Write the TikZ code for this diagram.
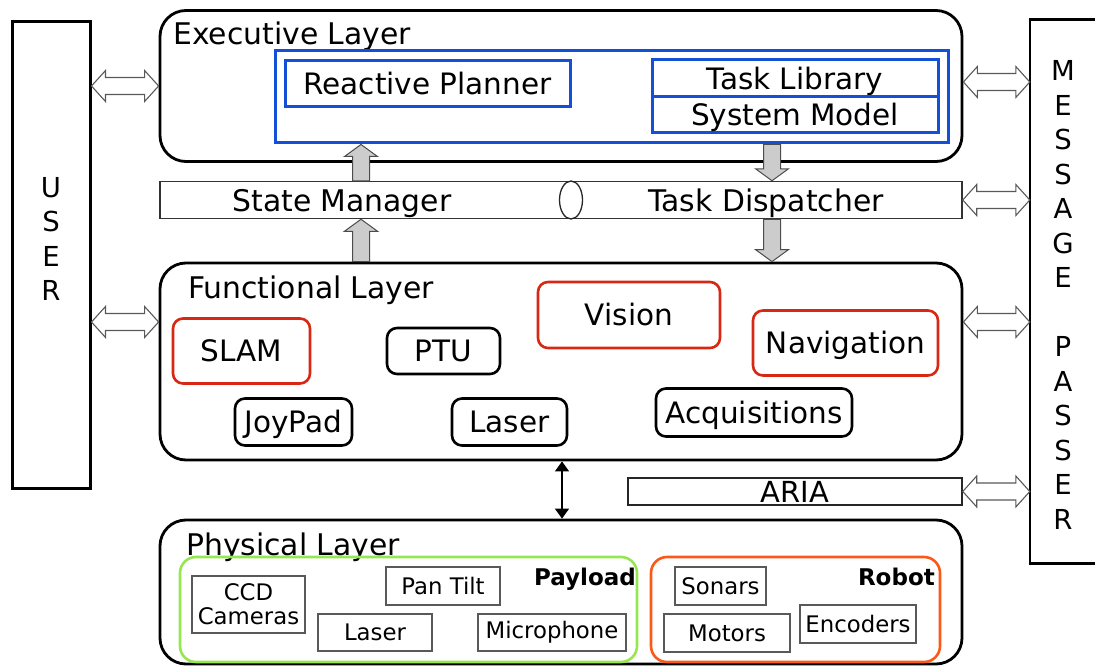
\documentclass[tikz,border=0pt]{standalone}
\usepackage{fontspec}
\setmainfont{DejaVu Sans}
\usetikzlibrary{calc,arrows.meta,shapes.geometric}
\definecolor{bblue}{RGB}{20,80,215}
\definecolor{rred}{RGB}{215,40,20}
\definecolor{lgreen}{RGB}{150,230,80}
\definecolor{oorange}{RGB}{250,90,25}
\tikzset{
  capc/.style={text height=21.5pt, text depth=0pt},
  lay/.style={draw=black, line width=2.8pt, rounded corners=26pt, inner sep=0pt},
  bx/.style={draw, inner sep=0pt, capc, font=\fontsize{29.5}{32}\selectfont},
  fbox/.style={draw=black, line width=2.6pt, rounded corners=10pt, inner sep=0pt, capc, font=\fontsize{29.5}{32}\selectfont},
  rbox/.style={fbox, draw=rred},
  pbox/.style={draw=gray!70!black, line width=1.2pt, inner sep=0pt, align=center, font=\fontsize{22.8}{27}\selectfont},
  big/.style={font=\fontsize{29.8}{32}\selectfont, inner sep=0pt},
  letters/.style={inner sep=0pt, align=center, font=\fontsize{27.5}{34.5}\selectfont},
  hollow/.style={draw=gray!70!black, fill=white, line width=1.1pt, line join=miter,
    to path={let \p1=(\tikztostart), \p2=(\tikztotarget) in
      (\x1,\y1) -- (\x1+14pt,\y1+15.5pt) -- (\x1+14pt,\y1+8.5pt) -- (\x2-14pt,\y1+8.5pt) -- (\x2-14pt,\y1+15.5pt)
      -- (\x2,\y1) -- (\x2-14pt,\y1-15.5pt) -- (\x2-14pt,\y1-8.5pt) -- (\x1+14pt,\y1-8.5pt) -- (\x1+14pt,\y1-15.5pt) -- cycle}},
  blockup/.style={draw=gray!60!black, fill=gray!40, line width=1pt,
    to path={let \p1=(\tikztostart), \p2=(\tikztotarget) in
      (\x1-8.5pt,\y1) -- (\x1-8.5pt,\y2-12pt) -- (\x1-16.5pt,\y2-12pt) -- (\x1,\y2) -- (\x1+16.5pt,\y2-12pt)
      -- (\x1+8.5pt,\y2-12pt) -- (\x1+8.5pt,\y1) -- cycle}},
  blockdown/.style={draw=gray!60!black, fill=gray!40, line width=1pt,
    to path={let \p1=(\tikztostart), \p2=(\tikztotarget) in
      (\x1-8.5pt,\y1) -- (\x1-8.5pt,\y2+12pt) -- (\x1-16.5pt,\y2+12pt) -- (\x1,\y2) -- (\x1+16.5pt,\y2+12pt)
      -- (\x1+8.5pt,\y2+12pt) -- (\x1+8.5pt,\y1) -- cycle}}
}
\begin{document}
\begin{tikzpicture}[x=1pt,y=-1pt]
\useasboundingbox (0,0) rectangle (1095,666);

% side boxes
\node[draw=black, line width=3pt, minimum width=78pt, minimum height=466pt, inner sep=0pt] (user) at (51,255) {};
\node[letters] (usertxt) at (51,239) {U\\S\\E\\R};
\node[minimum width=70pt, minimum height=543pt, inner sep=0pt] (msg) at (1065,291.5) {};
\draw[line width=2.6pt] (msg.north east) -- (msg.north west) -- (msg.south west) -- (msg.south east);
\node[letters] (msgtxt) at (1063,295) {M\\E\\S\\S\\A\\G\\E\\[34.5pt]P\\A\\S\\S\\E\\R};

% executive layer
\node[lay, minimum width=802pt, minimum height=151pt] (exec) at (561,86) {};
\node[big, anchor=base west] (exectxt) at (173,45) {Executive Layer};
\node[draw=bblue, line width=3pt, minimum width=673pt, minimum height=92pt, inner sep=0pt] (blue) at (611.5,97) {};
\node[bx, draw=bblue, line width=3pt, minimum width=285pt, minimum height=46pt] (rp) at (427.5,84) {Reactive Planner};
\node[bx, draw=bblue, line width=3pt, minimum width=286pt, minimum height=37pt] (tl) at (795,78.5) {Task Library};
\node[bx, draw=bblue, line width=3pt, minimum width=286pt, minimum height=36pt] (sm) at (795,115) {System Model};

% state manager / task dispatcher bar
\node[draw=black!80, line width=1.5pt, minimum width=802pt, minimum height=37pt, inner sep=0pt] (bar) at (561,200) {};
\node[big, anchor=base] (smtxt) at (342,211) {State Manager};
\node[big, anchor=base] (tdtxt) at (766,211) {Task Dispatcher};
\node[draw=black!85, line width=1.3pt, ellipse, minimum width=23pt, minimum height=38pt, inner sep=0pt] (ell) at (571,200) {};

% functional layer
\node[lay, minimum width=802pt, minimum height=197pt] (func) at (561,361.5) {};
\node[big, anchor=base west] (functxt) at (188,298) {Functional Layer};
\node[rbox, minimum width=137pt, minimum height=65pt] (slam) at (241.5,351) {SLAM};
\node[fbox, minimum width=113pt, minimum height=46pt] (ptu) at (443.5,351) {PTU};
\node[rbox, minimum width=182pt, minimum height=66pt] (vision) at (629,315) {Vision};
\node[rbox, minimum width=185pt, minimum height=65pt] (nav) at (845.5,343) {Navigation};
\node[fbox, minimum width=117pt, minimum height=47pt] (joy) at (293.5,422) {JoyPad};
\node[fbox, minimum width=115pt, minimum height=47pt] (laser) at (509.5,422) {Laser};
\node[fbox, minimum width=196pt, minimum height=48pt] (acq) at (754,412.5) {Acquisitions};

% ARIA
\node[draw=black!85, line width=1.5pt, minimum width=334pt, minimum height=27pt, inner sep=0pt, font=\fontsize{29}{30}\selectfont] (aria) at (795,491.5) {ARIA};

% physical layer
\node[lay, minimum width=802pt, minimum height=144pt] (phys) at (561,592) {};
\node[big, anchor=base west] (phystxt) at (186,555) {Physical Layer};
\node[draw=lgreen, line width=2.6pt, rounded corners=16pt, minimum width=457pt, minimum height=105pt, inner sep=0pt] (payload) at (408.5,609.5) {};
\node[pbox, minimum width=113pt, minimum height=57pt] (ccd) at (248.5,604.5) {CCD\\[-3pt]Cameras};
\node[pbox, minimum width=114pt, minimum height=38pt] (pan) at (443,586) {Pan Tilt};
\node[pbox, minimum width=114pt, minimum height=37pt] (laser2) at (375,632.5) {Laser};
\node[pbox, minimum width=148pt, minimum height=37pt] (mic) at (552,632.5) {Microphone};
\node[inner sep=0pt, anchor=base east, font=\fontsize{23}{26}\bfseries] (paytxt) at (636,585) {Payload};
\node[draw=oorange, line width=2.6pt, rounded corners=16pt, minimum width=289pt, minimum height=105pt, inner sep=0pt] (robot) at (795.5,609.5) {};
\node[pbox, minimum width=91pt, minimum height=38pt] (sonar) at (720.5,586) {Sonars};
\node[pbox, minimum width=126pt, minimum height=38pt] (motor) at (727,633) {Motors};
\node[pbox, minimum width=116pt, minimum height=38pt] (enc) at (858,624) {Encoders};
\node[inner sep=0pt, anchor=base east, font=\fontsize{23}{26}\bfseries] (robtxt) at (935,585) {Robot};

% coordinates for arrow levels
\coordinate (h1) at (0,86);
\coordinate (h2) at (0,322);
\coordinate (m1) at (0,82);
\coordinate (m2) at (0,200);
\coordinate (m3) at (0,322);
\coordinate (m4) at (0,491.5);
\coordinate (c1) at (361,0);
\coordinate (c2) at (772,0);
\coordinate (c3) at (562,0);

% hollow double arrows
\draw[hollow] (user.east |- h1) to (exec.west |- h1);
\draw[hollow] (user.east |- h2) to (func.west |- h2);
\draw[hollow] (exec.east |- m1) to (msg.west |- m1);
\draw[hollow] (bar.east |- m2) to (msg.west |- m2);
\draw[hollow] (func.east |- m3) to (msg.west |- m3);
\draw[hollow] (aria.east |- m4) to (msg.west |- m4);

% block arrows
\draw[blockup] (c1 |- bar.north) to (c1 |- blue.south);
\draw[blockup] (c1 |- func.north) to (c1 |- bar.south);
\draw[blockdown] (c2 |- blue.south) to (c2 |- bar.north);
\draw[blockdown] (c2 |- bar.south) to (c2 |- func.north);

% functional <-> physical
\draw[line width=1.3pt, {Triangle[length=10pt,width=14pt]}-{Triangle[length=10pt,width=14pt]}] (c3 |- func.south) -- (c3 |- phys.north);
\end{tikzpicture}
\end{document}
